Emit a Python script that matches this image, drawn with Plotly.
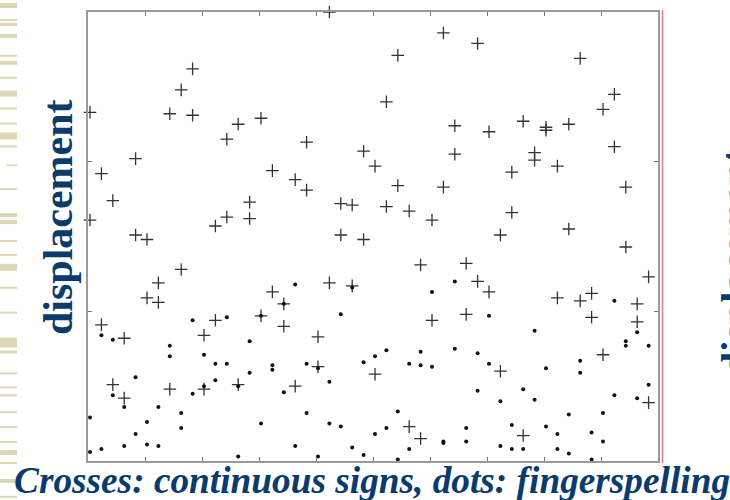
import plotly.graph_objects as go

# Sample positions along the horizontal axis (one column per frame)
frame_x = [0.035, 0.235, 0.435, 0.635, 0.835, 1.035, 1.235, 1.435, 1.635, 1.835,
           2.035, 2.235, 2.435, 2.635, 2.835, 3.035, 3.235, 3.435, 3.635, 3.835,
           4.035, 4.235, 4.435, 4.635, 4.835, 5.035, 5.235, 5.435, 5.635, 5.835,
           6.035, 6.235, 6.435, 6.635, 6.835, 7.035, 7.235, 7.435, 7.635, 7.835,
           8.035, 8.235, 8.435, 8.635, 8.835, 9.035, 9.235, 9.435, 9.635, 9.835]

# Continuous signs (crosses): two samples per column
signs_a = [2.33, 1.92, 1.74, 0.82, 2.02, 1.48, 1.19, 2.32, 2.48, 2.62,
           0.84, 1.57, 2.15, 2.25, 1.73, 2.29, 1.94, 1.05, 1.88, 2.13,
           0.83, 3.00, 1.72, 1.71, 2.07, 1.97, 2.40, 2.71, 1.67, 1.31,
           1.61, 2.86, 2.24, 1.32, 2.79, 2.20, 1.51, 1.93, 2.27, 2.06,
           2.23, 1.97, 2.25, 2.69, 1.12, 2.35, 2.45, 1.83, 1.05, 1.23]
signs_b = [1.61, 0.91, 0.51, 0.42, 1.51, 1.09, 1.06, 0.48, 1.28, 2.31,
           0.48, 0.94, 1.63, 0.51, 1.62, 0.97, 1.13, 0.90, 0.50, 1.81,
           0.63, 1.19, 1.51, 1.17, 1.48, 0.58, 1.70, 1.84, 0.23, 0.15,
           0.94, 1.83, 2.05, 0.98, 1.20, 1.13, 0.60, 1.66, 0.17, 2.01,
           2.21, 1.09, 1.55, 1.07, 0.96, 0.71, 2.10, 1.43, 0.93, 0.39]

# Fingerspelling (dots): two samples per column
spell_a = [0.29, 0.84, 0.81, 0.36, 0.56, 0.26, 0.36, 0.77, 0.32, 0.94,
           0.71, 0.65, 0.96, 0.50, 0.80, 0.97, 0.64, 1.05, 1.18, 0.65,
           0.62, 0.53, 0.98, 1.16, 0.66, 0.70, 0.74, 0.33, 0.65, 0.73,
           1.13, 0.13, 1.20, 0.22, 0.72, 0.97, 0.40, 0.24, 0.48, 0.87,
           0.62, 0.18, 0.31, 0.67, 0.19, 0.32, 1.07, 0.80, 0.86, 0.77]
spell_b = [0.06, 0.08, 0.44, 0.10, 0.18, 0.11, 0.10, 0.70, 0.22, 0.45,
           0.50, 0.54, 0.65, 0.03, 0.59, 0.25, 0.61, 0.46, 0.10, 0.32,
           0.03, 0.25, 0.23, 0.09, 0.04, 0.18, 0.22, 0.01, 0.08, 0.64,
           0.63, 0.12, 0.75, 0.13, 0.47, 0.65, 0.10, 0.08, 0.08, 0.41,
           0.23, 0.08, 0.05, 0.59, 0.01, 0.13, 0.44, 0.77, 0.42, 0.51]

x_ticks = [1, 2, 3, 4, 5, 6, 7, 8, 9]
y_ticks = [1, 2]

axis_label = "displacement"
caption = "Crosses: continuous signs, dots: fingerspelling"

W, H = 730, 500
ML, MR, MT, MB = 88, 72, 10, 39
PW, PH = W - ML - MR, H - MT - MB
NAVY = "#0b3a6c"
BEIGE = "#dcd8b6"


def px(xp):
    return (xp - ML) / PW


def py(yp):
    return (H - MB - yp) / PH


fig = go.Figure()
fig.add_trace(go.Scatter(
    x=frame_x + frame_x, y=signs_a + signs_b, mode="markers",
    marker=dict(symbol="cross-thin", size=9, color="#333333",
                line=dict(color="#333333", width=1.3)),
    cliponaxis=False, showlegend=False, hoverinfo="skip"))
fig.add_trace(go.Scatter(
    x=frame_x + frame_x, y=spell_a + spell_b, mode="markers",
    marker=dict(symbol="circle", size=4, color="#111111"),
    cliponaxis=False, showlegend=False, hoverinfo="skip"))

axis_style = dict(showgrid=False, zeroline=False, showticklabels=False,
                  ticks="inside", ticklen=4, tickwidth=1, tickcolor="#777777",
                  showline=True, linecolor="#9a9a9a", linewidth=2,
                  mirror="allticks")
fig.update_xaxes(range=[0, 10], tickvals=x_ticks, **axis_style)
fig.update_yaxes(range=[0, 3], tickvals=y_ticks, **axis_style)

shapes = []
# beige slide-border stripes on the far left (y0, y1, x0, x1 in pixels)
stripes = [(1, 6, 0, 17), (17, 19, 0, 17), (21, 24, 0, 17), (32, 36, 0, 17),
           (53, 55, 0, 17), (59, 63, 0, 17), (75, 77, 0, 17), (89, 95, 0, 17),
           (106, 108, 0, 17), (121, 123, 0, 17), (131, 138, 0, 17), (144, 146, 0, 17),
           (163, 165, 7, 17), (187, 189, 0, 17), (212, 216, 0, 17), (219, 223, 0, 17),
           (239, 241, 0, 17), (253, 255, 0, 17), (263, 270, 0, 17), (286, 288, 0, 17),
           (311, 313, 0, 17), (337, 347, 0, 17), (350, 353, 0, 17), (372, 374, 0, 17),
           (386, 388, 0, 17), (394, 396, 0, 17), (411, 413, 0, 17), (426, 428, 0, 17),
           (441, 443, 0, 17), (450, 455, 0, 17), (462, 464, 0, 17), (479, 483, 0, 17),
           (496, 498, 0, 17)]
for y0, y1, x0, x1 in stripes:
    shapes.append(dict(type="rect", xref="paper", yref="paper",
                       x0=px(x0), x1=px(x1), y0=py(y1), y1=py(y0),
                       fillcolor=BEIGE, line=dict(width=0), layer="below"))
# thin red rule beside the frame
shapes.append(dict(type="line", xref="paper", yref="paper",
                   x0=px(662.5), x1=px(662.5), y0=py(463), y1=py(8),
                   line=dict(color="#ec7b7b", width=1.5)))

annotations = [
    dict(text="<b>" + axis_label + "</b>", xref="paper", yref="paper",
         x=px(58), y=py(216), xanchor="center", yanchor="middle",
         textangle=-90, showarrow=False,
         font=dict(family="Liberation Serif", size=42, color=NAVY)),
    dict(text="<b>" + axis_label + "</b>", xref="paper", yref="paper",
         x=px(736), y=py(261), xanchor="center", yanchor="middle",
         textangle=-90, showarrow=False,
         font=dict(family="Liberation Serif", size=40, color=NAVY)),
    dict(text="<b><i>" + caption + "</i></b>", xref="paper", yref="paper",
         x=px(12), y=py(481), xanchor="left", yanchor="middle",
         showarrow=False,
         font=dict(family="Liberation Serif", size=37.3, color=NAVY)),
]

fig.update_layout(width=W, height=H, margin=dict(l=ML, r=MR, t=MT, b=MB),
                  paper_bgcolor="white", plot_bgcolor="white",
                  shapes=shapes, annotations=annotations)
fig.write_html("out.html")
